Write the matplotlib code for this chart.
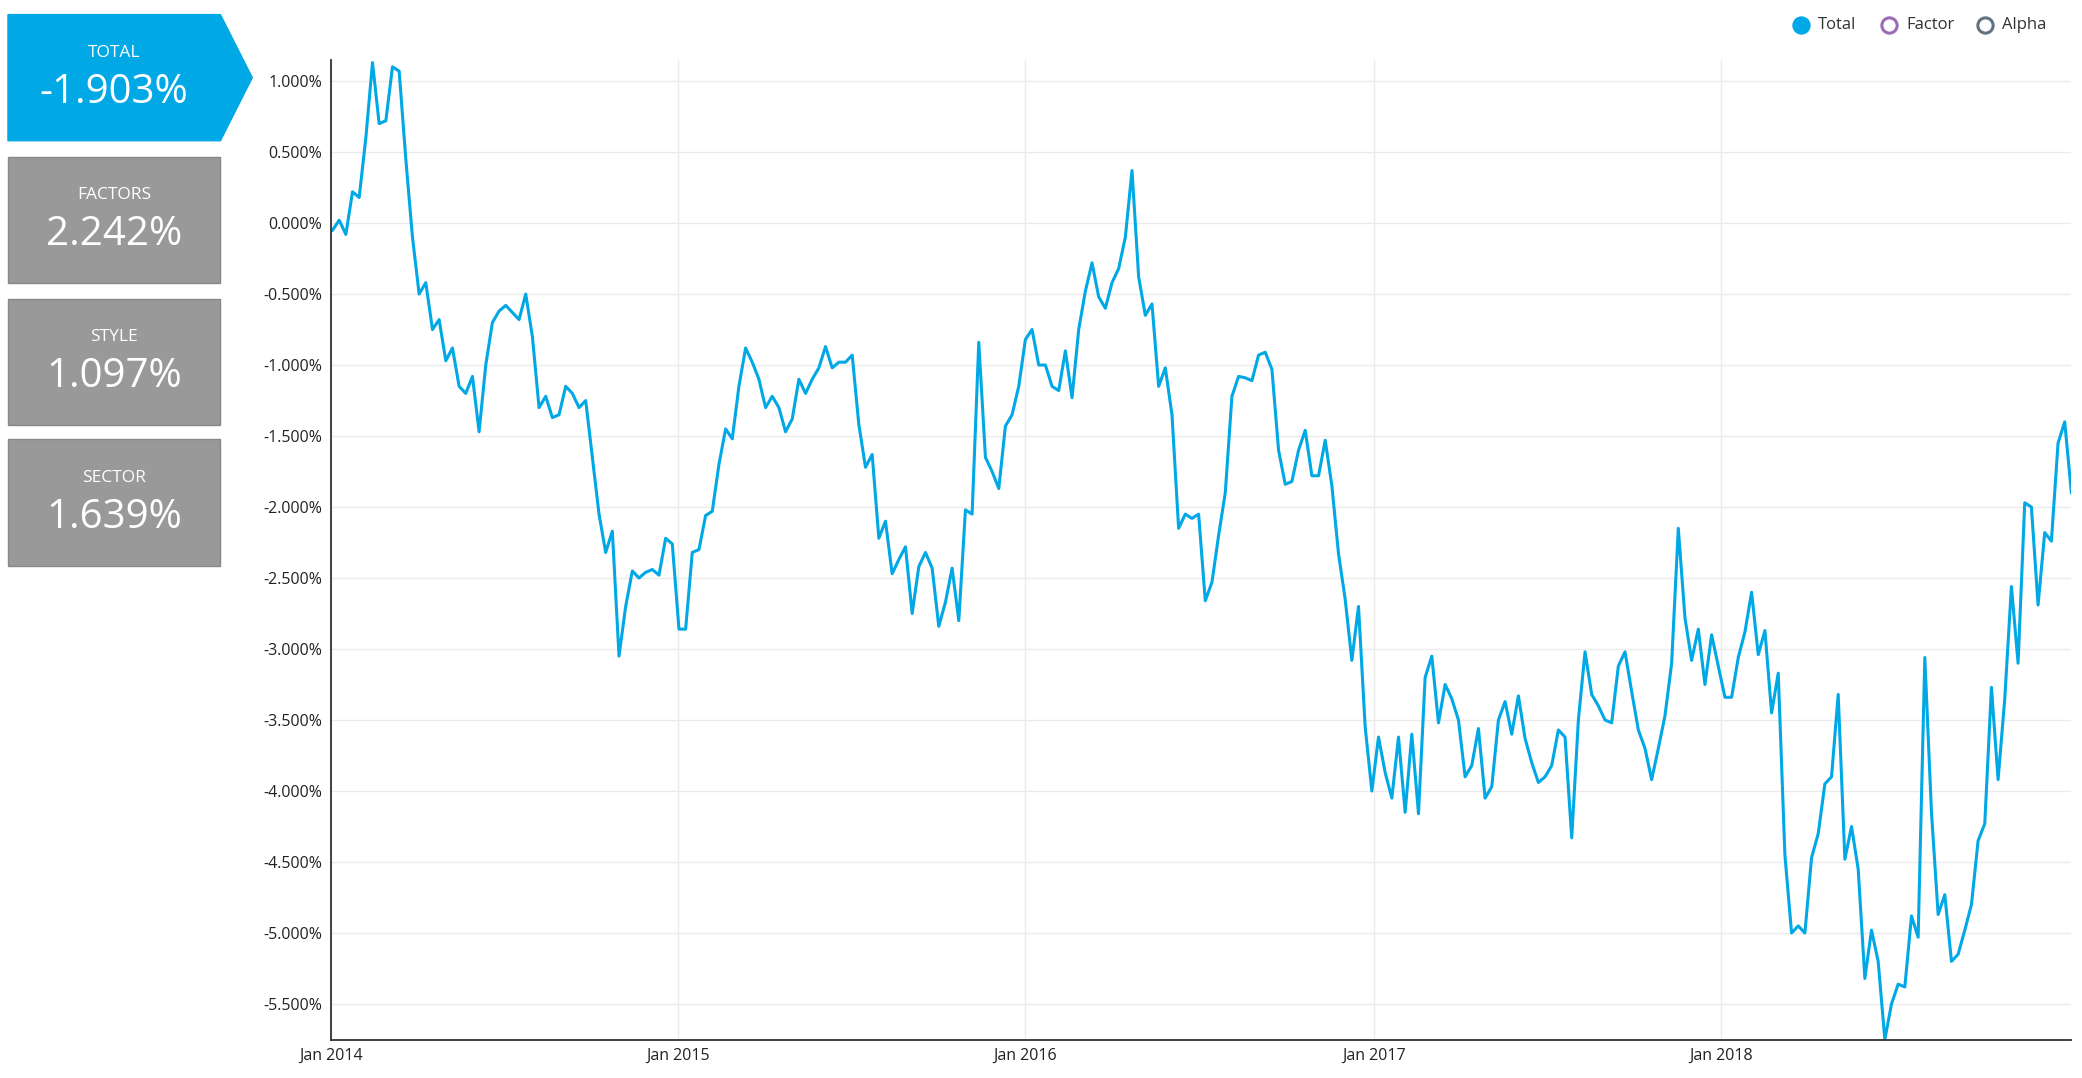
import numpy as np
import pandas as pd
from matplotlib import pyplot as plt
from matplotlib.patches import Polygon, Rectangle

plt.rcParams["font.family"] = ["Open Sans", "DejaVu Sans"]

# weekly total return, percent
total = [
    -0.05, 0.02, -0.08, 0.22, 0.18, 0.6, 1.13, 0.7, 0.72, 1.1, 1.07, 0.45, -0.1, -0.5, -0.42,
    -0.75, -0.68, -0.97, -0.88, -1.15, -1.2, -1.08, -1.47, -1.0, -0.7, -0.62, -0.58, -0.63,
    -0.68, -0.5, -0.8, -1.3, -1.22, -1.37, -1.35, -1.15, -1.2, -1.3, -1.25, -1.65, -2.05,
    -2.32, -2.17, -3.05, -2.7, -2.45, -2.5, -2.46, -2.44, -2.48, -2.22, -2.26, -2.86, -2.86,
    -2.32, -2.3, -2.06, -2.03, -1.7, -1.45, -1.52, -1.15, -0.88, -0.98, -1.1, -1.3, -1.22,
    -1.3, -1.47, -1.38, -1.1, -1.2, -1.1, -1.02, -0.87, -1.02, -0.98, -0.98, -0.93, -1.42,
    -1.72, -1.63, -2.22, -2.1, -2.47, -2.37, -2.28, -2.75, -2.42, -2.32, -2.43, -2.84, -2.67,
    -2.43, -2.8, -2.02, -2.05, -0.84, -1.65, -1.75, -1.87, -1.43, -1.35, -1.15, -0.82, -0.75,
    -1.0, -1.0, -1.15, -1.18, -0.9, -1.23, -0.75, -0.48, -0.28, -0.52, -0.6, -0.42, -0.32,
    -0.1, 0.37, -0.38, -0.65, -0.57, -1.15, -1.02, -1.35, -2.15, -2.05, -2.08, -2.05, -2.66,
    -2.53, -2.2, -1.9, -1.22, -1.08, -1.09, -1.11, -0.93, -0.91, -1.03, -1.6, -1.84, -1.82,
    -1.6, -1.46, -1.78, -1.78, -1.53, -1.85, -2.33, -2.65, -3.08, -2.7, -3.55, -4.0, -3.62,
    -3.87, -4.05, -3.62, -4.15, -3.6, -4.16, -3.2, -3.05, -3.52, -3.25, -3.35, -3.5, -3.9,
    -3.82, -3.56, -4.05, -3.97, -3.5, -3.37, -3.6, -3.33, -3.63, -3.8, -3.94, -3.9, -3.82,
    -3.57, -3.62, -4.33, -3.5, -3.02, -3.32, -3.4, -3.5, -3.52, -3.12, -3.02, -3.3, -3.57,
    -3.7, -3.92, -3.7, -3.47, -3.1, -2.15, -2.78, -3.08, -2.86, -3.25, -2.9, -3.12, -3.34,
    -3.34, -3.06, -2.88, -2.6, -3.04, -2.87, -3.45, -3.17, -4.45, -5.0, -4.95, -5.0, -4.47,
    -4.3, -3.95, -3.9, -3.32, -4.48, -4.25, -4.55, -5.32, -4.98, -5.2, -5.75, -5.5, -5.36,
    -5.38, -4.88, -5.03, -3.06, -4.15, -4.87, -4.73, -5.2, -5.15, -4.98, -4.8, -4.35, -4.23,
    -3.27, -3.92, -3.35, -2.56, -3.1, -1.97, -2.0, -2.69, -2.18, -2.24, -1.55, -1.4, -1.9,
]
dates = pd.date_range("2014-01-03", periods=len(total), freq="7D")

box_labels = ["TOTAL", "FACTORS", "STYLE", "SECTOR"]
box_values = ["-1.903%", "2.242%", "1.097%", "1.639%"]
legend_labels = ["Total", "Factor", "Alpha"]
legend_colors = ["#00A8E6", "#9B6BB5", "#5F7382"]

W, H = 1568, 812  # layout reference units
fig = plt.figure(figsize=(20.82, 10.78), dpi=100)
ax = fig.add_axes([249 / W, 1 - 783 / H, (1560 - 249) / W, (783 - 45) / H])

ax.plot(dates, total, color="#00A8E6", lw=2.2)
ax.set_ylim(-5.75, 1.15)
ax.set_xlim(dates[0], dates[-1])
ax.set_yticks(np.arange(-5.5, 1.01, 0.5))
ax.yaxis.set_major_formatter(plt.FuncFormatter(lambda v, p: f"{v:.3f}%"))
years = pd.to_datetime(["2014-01-01", "2015-01-01", "2016-01-01", "2017-01-01", "2018-01-01"])
ax.set_xticks(years)
ax.set_xticklabels(["Jan 2014", "Jan 2015", "Jan 2016", "Jan 2017", "Jan 2018"])
ax.grid(True, color="#EBEBEB", lw=1)
ax.set_axisbelow(True)
ax.tick_params(length=0, labelsize=11.5, colors="#222222", pad=6)
for s in ["top", "right"]:
    ax.spines[s].set_visible(False)
for s in ["left", "bottom"]:
    ax.spines[s].set_color("#333333")
    ax.spines[s].set_linewidth(1.3)

tf = fig.transFigure


def fx(x):
    return x / W


def fy(y):
    return 1 - y / H


# summary boxes
tops = [11, 118, 225, 331]
for i, (lab, val) in enumerate(zip(box_labels, box_values)):
    t, b = tops[i], tops[i] + 95
    if i == 0:
        pts = [(6, t), (166, t), (190, (t + b) / 2), (166, b), (6, b)]
        fig.patches.append(Polygon([(fx(x), fy(y)) for x, y in pts], closed=True,
                                   transform=tf, color="#00A8E6"))
    else:
        fig.patches.append(Rectangle((fx(6), fy(b)), fx(160), 95 / H, transform=tf,
                                     facecolor="#999999", edgecolor="#888888", lw=1))
    fig.text(fx(86), fy(t + 29), lab, transform=tf, ha="center", va="center",
             color="white", fontsize=12.5)
    fig.text(fx(86), fy(t + 59), val, transform=tf, ha="center", va="center",
             color="white", fontsize=29)

# legend
lx = [1356, 1423, 1495]
for x, lab, c, i in zip(lx, legend_labels, legend_colors, range(3)):
    fig.lines.append(plt.Line2D([fx(x)], [fy(19)], transform=tf, marker="o", ms=11,
                                mfc=c if i == 0 else "white", mec=c, mew=2.2))
    fig.text(fx(x + 13), fy(19), lab, transform=tf, ha="left", va="center",
             fontsize=12, color="#333333")

fig.savefig("out.png", dpi=100)
